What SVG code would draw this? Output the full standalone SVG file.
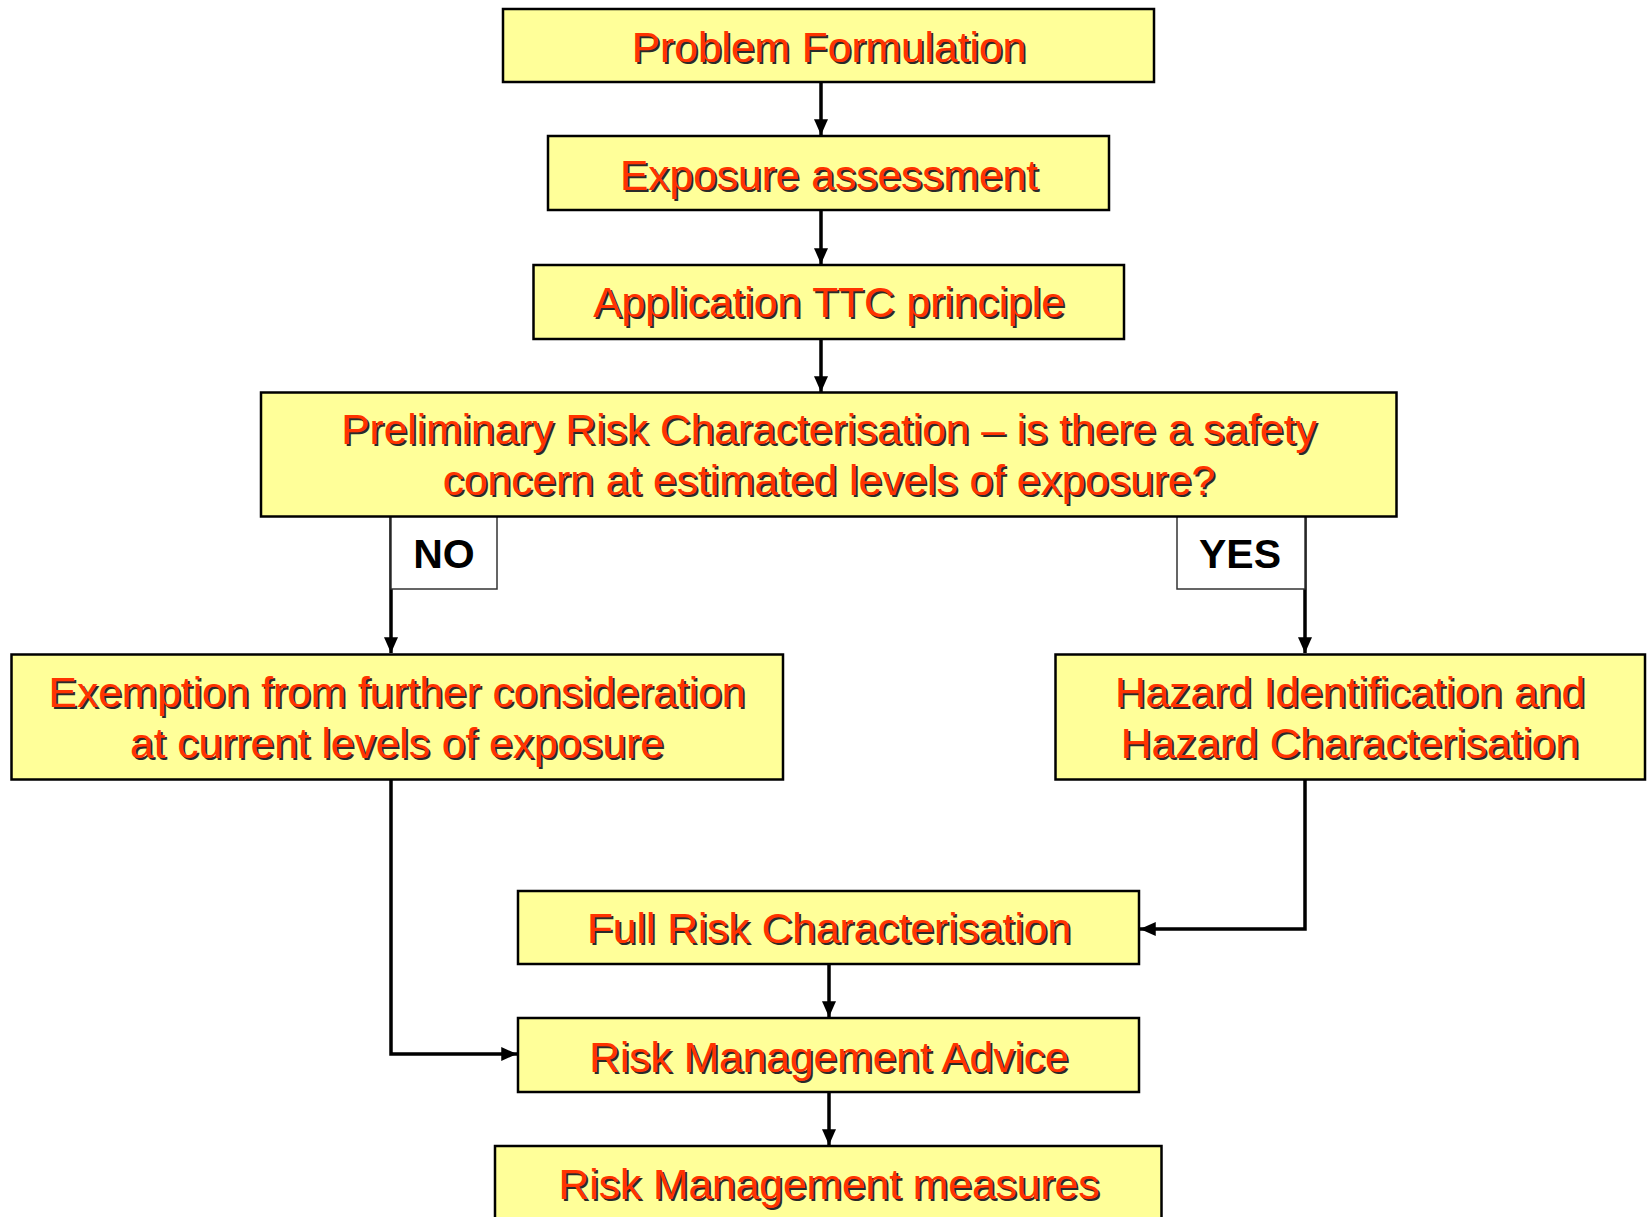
<svg xmlns="http://www.w3.org/2000/svg" width="1650" height="1217" viewBox="0 0 1650 1217">
<defs>
<style>
.box{fill:#FFFF99;stroke:#000;stroke-width:2.5}
.lbl{fill:#fff;stroke:#333;stroke-width:1.5}
.t{font-family:"Liberation Sans",Arial,sans-serif;font-size:42.5px;text-anchor:middle;fill:#FF3300}
.sh{font-family:"Liberation Sans",Arial,sans-serif;font-size:42.5px;text-anchor:middle;fill:#2a2a2a}
.yn{font-family:"Liberation Sans",Arial,sans-serif;font-size:41px;font-weight:bold;text-anchor:middle;fill:#000}
.c{fill:none;stroke:#000;stroke-width:3.5}
</style>
<marker id="ah" viewBox="0 0 10 10" refX="10" refY="5" markerWidth="4.5" markerHeight="4" markerUnits="strokeWidth" orient="auto" preserveAspectRatio="none">
<path d="M0,0 L10,5 L0,10 z" fill="#000"/>
</marker>
</defs>
<rect width="1650" height="1217" fill="#fff"/>

<g id="connectors">
<line class="c" x1="821" y1="82" x2="821" y2="135" marker-end="url(#ah)"/>
<line class="c" x1="821" y1="210" x2="821" y2="264" marker-end="url(#ah)"/>
<line class="c" x1="821" y1="339" x2="821" y2="392" marker-end="url(#ah)"/>
<line class="c" x1="391" y1="516" x2="391" y2="653" marker-end="url(#ah)"/>
<line class="c" x1="1305" y1="516" x2="1305" y2="653" marker-end="url(#ah)"/>
<polyline class="c" points="391,779 391,1054 517,1054" marker-end="url(#ah)"/>
<polyline class="c" points="1305,779 1305,929 1140,929" marker-end="url(#ah)"/>
<line class="c" x1="829" y1="964" x2="829" y2="1017" marker-end="url(#ah)"/>
<line class="c" x1="829" y1="1092" x2="829" y2="1145" marker-end="url(#ah)"/>
</g>

<g id="label-no">
<rect class="lbl" x="391" y="516" width="106" height="73"/>
<text class="yn" x="444" y="568">NO</text>
</g>
<g id="label-yes">
<rect class="lbl" x="1177" y="516" width="128" height="73"/>
<text class="yn" x="1240" y="568">YES</text>
</g>

<g id="problem-formulation">
<rect class="box" x="503" y="9" width="651" height="73"/>
<text class="sh" x="831" y="63.5">Problem Formulation</text>
<text class="t" x="829" y="61.5">Problem Formulation</text>
</g>
<g id="exposure-assessment">
<rect class="box" x="548" y="136" width="561" height="74"/>
<text class="sh" x="831" y="192">Exposure assessment</text>
<text class="t" x="829" y="190">Exposure assessment</text>
</g>
<g id="application-ttc">
<rect class="box" x="533.5" y="265" width="590.5" height="74"/>
<text class="sh" x="831" y="319">Application TTC principle</text>
<text class="t" x="829" y="317">Application TTC principle</text>
</g>
<g id="preliminary-risk">
<rect class="box" x="261" y="392.5" width="1135.5" height="124"/>
<text class="sh" x="831" y="445.5">Preliminary Risk Characterisation – is there a safety</text>
<text class="t" x="829" y="443.5">Preliminary Risk Characterisation – is there a safety</text>
<text class="sh" x="831" y="497">concern at estimated levels of exposure?</text>
<text class="t" x="829" y="495">concern at estimated levels of exposure?</text>
</g>
<g id="exemption">
<rect class="box" x="11.5" y="654.5" width="771.5" height="125"/>
<text class="sh" x="399" y="709">Exemption from further consideration</text>
<text class="t" x="397" y="707">Exemption from further consideration</text>
<text class="sh" x="399" y="760">at current levels of exposure</text>
<text class="t" x="397" y="758">at current levels of exposure</text>
</g>
<g id="hazard">
<rect class="box" x="1055.5" y="654.5" width="589.5" height="125"/>
<text class="sh" x="1352" y="709">Hazard Identification and</text>
<text class="t" x="1350" y="707">Hazard Identification and</text>
<text class="sh" x="1352" y="760">Hazard Characterisation</text>
<text class="t" x="1350" y="758">Hazard Characterisation</text>
</g>
<g id="full-risk">
<rect class="box" x="518" y="891" width="621" height="73"/>
<text class="sh" x="831" y="945">Full Risk Characterisation</text>
<text class="t" x="829" y="943">Full Risk Characterisation</text>
</g>
<g id="risk-management-advice">
<rect class="box" x="518" y="1018" width="621" height="74"/>
<text class="sh" x="831" y="1073.5">Risk Management Advice</text>
<text class="t" x="829" y="1071.5">Risk Management Advice</text>
</g>
<g id="risk-management-measures">
<rect class="box" x="495" y="1146" width="666.5" height="80"/>
<text class="sh" x="831" y="1201">Risk Management measures</text>
<text class="t" x="829" y="1199">Risk Management measures</text>
</g>
</svg>
